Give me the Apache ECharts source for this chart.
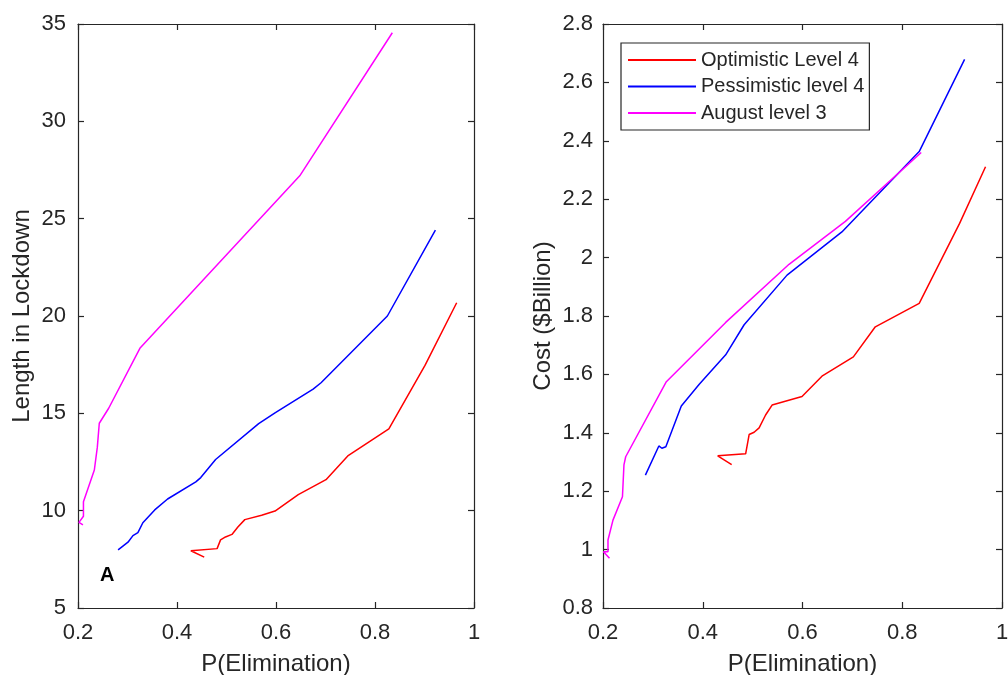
<!DOCTYPE html>
<html>
<head>
<meta charset="utf-8">
<script src="https://cdn.jsdelivr.net/npm/echarts@6/dist/echarts.min.js"></script>
<style>
html,body{margin:0;padding:0;background:#fff;}
#main{width:1008px;height:675px;}
</style>
</head>
<body>
<div id="main"></div>
<script>
// ---- Data ----
var seriesNames = ['Optimistic Level 4', 'Pessimistic level 4', 'August level 3'];
var seriesColors = ['#ff0000', '#0000ff', '#ff00ff'];

var xTicks = [0.2, 0.4, 0.6, 0.8, 1];
var leftYTicks = [5, 10, 15, 20, 25, 30, 35];
var rightYTicks = [0.8, 1, 1.2, 1.4, 1.6, 1.8, 2, 2.2, 2.4, 2.6, 2.8];

// Left panel: Length in Lockdown vs P(Elimination)
var lockOptimistic = [
  [0.455, 7.61], [0.428, 7.94], [0.481, 8.05], [0.488, 8.5], [0.498, 8.65],
  [0.511, 8.78], [0.523, 9.16], [0.537, 9.54], [0.571, 9.76], [0.598, 9.98],
  [0.645, 10.82], [0.701, 11.59], [0.745, 12.81], [0.828, 14.2], [0.901, 17.46],
  [0.965, 20.68]
];
var lockPessimistic = [
  [0.281, 7.99], [0.301, 8.38], [0.311, 8.72], [0.321, 8.87], [0.331, 9.38],
  [0.355, 10.04], [0.381, 10.6], [0.438, 11.48], [0.448, 11.7], [0.478, 12.63],
  [0.565, 14.47], [0.598, 15.02], [0.675, 16.24], [0.691, 16.57], [0.825, 20.0],
  [0.922, 24.41]
];
var lockAugust = [
  [0.21, 9.27], [0.202, 9.4], [0.211, 9.71], [0.211, 10.46], [0.233, 12.09],
  [0.239, 13.25], [0.243, 14.49], [0.262, 15.26], [0.325, 18.34], [0.648, 27.2],
  [0.835, 34.55]
];

// Right panel: Cost ($Billion) vs P(Elimination)
var costOptimistic = [
  [0.458, 1.291], [0.43, 1.321], [0.486, 1.328], [0.493, 1.394], [0.503, 1.402],
  [0.513, 1.417], [0.526, 1.461], [0.539, 1.495], [0.599, 1.524], [0.639, 1.594],
  [0.702, 1.66], [0.746, 1.763], [0.834, 1.843], [0.915, 2.117], [0.967, 2.311]
];
var costPessimistic = [
  [0.285, 1.255], [0.312, 1.355], [0.318, 1.347], [0.326, 1.352], [0.357, 1.492],
  [0.393, 1.566], [0.446, 1.667], [0.483, 1.77], [0.569, 1.94], [0.679, 2.088],
  [0.834, 2.363], [0.925, 2.679]
];
var costAugust = [
  [0.213, 0.970], [0.201, 0.993], [0.21, 0.993], [0.21, 1.033], [0.22, 1.101],
  [0.239, 1.181], [0.242, 1.29], [0.2455, 1.318], [0.327, 1.575], [0.446, 1.778],
  [0.573, 1.977], [0.686, 2.124], [0.838, 2.36]
];

// ---- Chart ----
var TXT = '#262626';
var FONT = 'Liberation Sans, Arial, sans-serif';

function xAx(gridIndex, pos, showLabels, name) {
  return {
    type: 'value', gridIndex: gridIndex, position: pos,
    min: xTicks[0], max: xTicks[xTicks.length - 1], interval: 0.2,
    axisLine: {show: true, onZero: false, lineStyle: {color: TXT, width: 1.2}},
    axisTick: {show: true, inside: true, length: 6, lineStyle: {color: TXT, width: 1.2}},
    axisLabel: {show: showLabels, color: TXT, fontSize: 22, fontFamily: FONT, margin: 14},
    splitLine: {show: false},
    name: name || '', nameLocation: 'middle', nameGap: 44,
    nameTextStyle: {color: TXT, fontSize: 24, fontFamily: FONT}
  };
}
function yAx(gridIndex, pos, ticks, interval, showLabels, name, nameGap, margin) {
  return {
    type: 'value', gridIndex: gridIndex, position: pos,
    min: ticks[0], max: ticks[ticks.length - 1], interval: interval,
    axisLine: {show: true, onZero: false, lineStyle: {color: TXT, width: 1.2}},
    axisTick: {show: true, inside: true, length: 6, lineStyle: {color: TXT, width: 1.2}},
    axisLabel: {show: showLabels, color: TXT, fontSize: 22, fontFamily: FONT, margin: margin || 10},
    splitLine: {show: false},
    name: name || '', nameLocation: 'middle', nameGap: nameGap || 40,
    nameTextStyle: {color: TXT, fontSize: 24, fontFamily: FONT}
  };
}
function lineSeries(i, xi, yi, data) {
  return {
    type: 'line', name: seriesNames[i], xAxisIndex: xi, yAxisIndex: yi,
    data: data, showSymbol: false, symbol: 'none', smooth: false,
    color: seriesColors[i],
    lineStyle: {color: seriesColors[i], width: 1.5},
    animation: false
  };
}

var chart = echarts.init(document.getElementById('main'), null, {renderer: 'canvas'});
chart.setOption({
  backgroundColor: '#ffffff',
  animation: false,
  grid: [
    {left: 78, top: 24, width: 396, height: 584, containLabel: false, outerBoundsMode: 'none'},
    {left: 603, top: 24, width: 399, height: 584, containLabel: false, outerBoundsMode: 'none'}
  ],
  xAxis: [
    xAx(0, 'bottom', true, 'P(Elimination)'),
    xAx(0, 'top', false),
    xAx(1, 'bottom', true, 'P(Elimination)'),
    xAx(1, 'top', false)
  ],
  yAxis: [
    yAx(0, 'left', leftYTicks, 5, true, 'Length in Lockdown', 44, 12),
    yAx(0, 'right', leftYTicks, 5, false),
    yAx(1, 'left', rightYTicks, 0.2, true, 'Cost ($Billion)', 48, 10),
    yAx(1, 'right', rightYTicks, 0.2, false)
  ],
  legend: {
    data: seriesNames,
    orient: 'vertical',
    left: 621, top: 43,
    padding: [7, 5, 7, 7],
    itemGap: 6.5,
    itemWidth: 68, itemHeight: 2,
    icon: 'rect',
    borderColor: TXT, borderWidth: 1.2,
    backgroundColor: '#fff',
    textStyle: {color: TXT, fontSize: 20, fontFamily: FONT, lineHeight: 20}
  },
  graphic: [
    {type: 'text', left: 100, top: 565, style: {text: 'A', fill: '#000', font: 'bold 20px Liberation Sans, Arial, sans-serif'}}
  ],
  series: [
    lineSeries(0, 0, 0, lockOptimistic),
    lineSeries(1, 0, 0, lockPessimistic),
    lineSeries(2, 0, 0, lockAugust),
    lineSeries(0, 2, 2, costOptimistic),
    lineSeries(1, 2, 2, costPessimistic),
    lineSeries(2, 2, 2, costAugust)
  ]
});
</script>
</body>
</html>
